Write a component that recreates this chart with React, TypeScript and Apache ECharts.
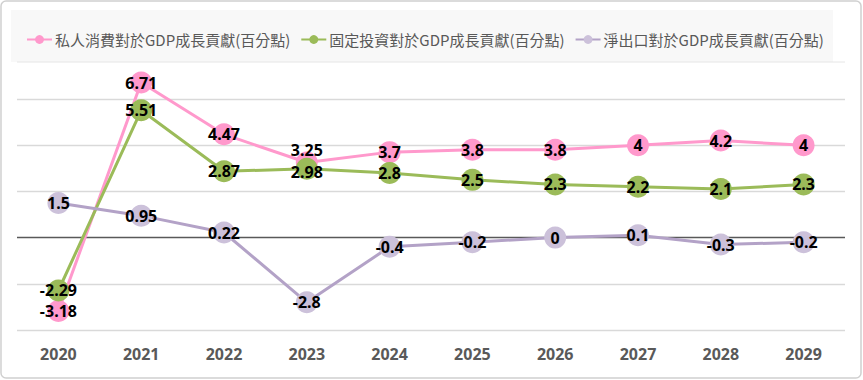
import React, { useEffect, useRef } from "react";
import * as echarts from "echarts";

const years = ["2020", "2021", "2022", "2023", "2024", "2025", "2026", "2027", "2028", "2029"];
const privateConsumption = [-3.18, 6.71, 4.47, 3.25, 3.7, 3.8, 3.8, 4, 4.2, 4];
const fixedInvestment = [-2.29, 5.51, 2.87, 2.98, 2.8, 2.5, 2.3, 2.2, 2.1, 2.3];
const netExports = [1.5, 0.95, 0.22, -2.8, -0.4, -0.2, 0, 0.1, -0.3, -0.2];
const seriesNames = [
  "私人消費對於GDP成長貢獻(百分點)",
  "固定投資對於GDP成長貢獻(百分點)",
  "淨出口對於GDP成長貢獻(百分點)",
];

const labelStyle = {
  show: true,
  position: "inside" as const,
  fontFamily: "Noto Sans",
  fontWeight: "bold" as const,
  fontSize: 16,
  color: "#000",
};

export default function App() {
  const ref = useRef<HTMLDivElement>(null);
  useEffect(() => {
    document.body.style.margin = "0";
    const chart = echarts.init(ref.current!, null, { renderer: "svg" });
    const mkData = (arr: number[], overrides: Record<number, any> = {}) =>
      arr.map((v, i) => (overrides[i] ? { value: v, label: overrides[i] } : v));
    chart.setOption({
      animation: false,
      backgroundColor: "#fff",
      textStyle: { fontFamily: "Noto Sans CJK TC" },
      graphic: [
        {
          type: "rect",
          shape: { x: 1, y: 1, width: 860, height: 377, r: 5 },
          style: { fill: "none", stroke: "#d0d0d0", lineWidth: 1.5 },
          z: -10,
        },
        {
          type: "rect",
          shape: { x: 11, y: 10, width: 822, height: 52 },
          style: { fill: "#f8f8f8" },
          z: -10,
        },
        {
          type: "line",
          shape: { x1: 17, y1: 62, x2: 845, y2: 62 },
          style: { stroke: "#e6e6e6", lineWidth: 1 },
          z: -9,
        },
      ],
      legend: {
        left: 21,
        top: 27,
        itemWidth: 25,
        itemHeight: 11,
        itemGap: 10,
        textStyle: { fontFamily: "Noto Sans CJK TC", fontSize: 15, color: "#595959", padding: [0, 0, 0, -2] },
        data: seriesNames,
      },
      grid: { left: 17, right: 18, top: 99, bottom: 50 },
      xAxis: {
        type: "category",
        data: years,
        boundaryGap: true,
        axisLine: { show: false, onZero: false },
        axisTick: { show: false },
        axisLabel: { fontFamily: "Noto Sans", fontWeight: "bold", fontSize: 16, color: "#595959", margin: 16 },
      },
      yAxis: {
        type: "value",
        min: -4,
        max: 6,
        interval: 2,
        axisLabel: { show: false },
        axisLine: { show: false },
        axisTick: { show: false },
        splitLine: {
          show: true,
          lineStyle: {
            color: ["#d9d9d9", "#d9d9d9", "#595959", "#d9d9d9", "#d9d9d9", "#d9d9d9"],
            width: 1.3,
          },
        },
      },
      series: [
        {
          name: seriesNames[0],
          type: "line",
          data: mkData(privateConsumption, { 3: { offset: [0, -13] } }),
          symbol: "circle",
          symbolSize: 22,
          clip: false,
          lineStyle: { color: "#ff99cc", width: 3 },
          itemStyle: { color: "#ff99cc" },
          label: labelStyle,
          z: 2,
        },
        {
          name: seriesNames[1],
          type: "line",
          data: mkData(fixedInvestment, { 3: { offset: [0, 3] } }),
          symbol: "circle",
          symbolSize: 22,
          clip: false,
          lineStyle: { color: "#9bbb59", width: 3 },
          itemStyle: { color: "#9bbb59" },
          label: labelStyle,
          z: 3,
        },
        {
          name: seriesNames[2],
          type: "line",
          data: mkData(netExports),
          symbol: "circle",
          symbolSize: 22,
          clip: false,
          lineStyle: { color: "#b3a2c7", width: 3 },
          itemStyle: { color: "#ccc1da" },
          label: labelStyle,
          z: 4,
        },
      ],
    });
    return () => chart.dispose();
  }, []);
  return <div ref={ref} style={{ position: "fixed", left: 0, top: 0, width: 863, height: 380 }} />;
}
